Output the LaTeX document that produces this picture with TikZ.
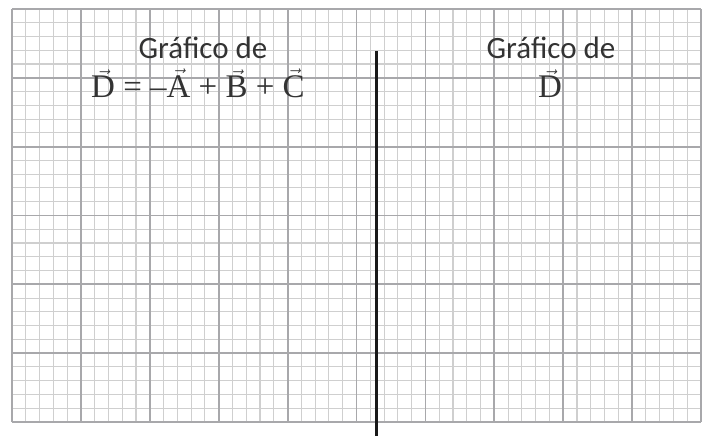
\documentclass[tikz,border=0pt]{standalone}
\usepackage{amsmath}
\usepackage{fontspec}
\newfontfamily\titlefont{Carlito}
\newfontfamily\vecfont{Liberation Serif}
\usepackage{tikz}
\usetikzlibrary{calc}

\definecolor{minorgray}{HTML}{CFCFCF}
\definecolor{majorgray}{HTML}{A8A8AB}
\definecolor{textgray}{HTML}{333333}

\newcommand{\vecl}[1]{$\vec{\text{\vecfont #1}}$}

\begin{document}
\begin{tikzpicture}[x=1pt,y=1pt,
	minorline/.style={minorgray, line width=1.1pt},
	majorline/.style={majorgray, line width=1.8pt},
	titletext/.style={textgray, anchor=base, inner sep=0pt, font=\titlefont\fontsize{31}{32}\selectfont},
	vectext/.style={textgray, anchor=base, inner sep=0pt, font=\vecfont\fontsize{33}{34}\selectfont}]
			
			\useasboundingbox (0,0) rectangle (707,436);
			
			\coordinate (SW) at (12,14);
			\coordinate (NE) at (701,427);
			
			% fine grid
			\foreach \i in {0,...,50}
				\draw[minorline] ($(SW)+(\i*13.78,0)$) -- ++(0,413);
			\foreach \j in {0,...,30}
				\draw[minorline] ($(SW)+(0,\j*13.77)$) -- ++(689,0);
			
			% coarse grid
			\foreach \i in {0,...,10}
				\draw[majorline] ($(SW)+(\i*68.9,0)$) -- ++(0,413);
			\foreach \j in {0,...,6}
				\draw[majorline] ($(SW)+(0,\j*68.83)$) -- ++(689,0);
			
			% dividing line
			\coordinate (T) at (376.7,385);
			\coordinate (B) at (376.7,0);
			\draw[black!90, line width=2.6pt] (T) -- (B);
			
			% titles
			\node[titletext] (tl) at (203,377) {Gráfico de};
			\node[vectext] (el) at (198,338) {\vecl{D} = –\vecl{A} + \vecl{B} + \vecl{C}};
			
			\node[titletext] (tr) at (551,377) {Gráfico de};
			\node[vectext] (er) at (550,338) {\vecl{D}};
			
		\end{tikzpicture}
\end{document}
